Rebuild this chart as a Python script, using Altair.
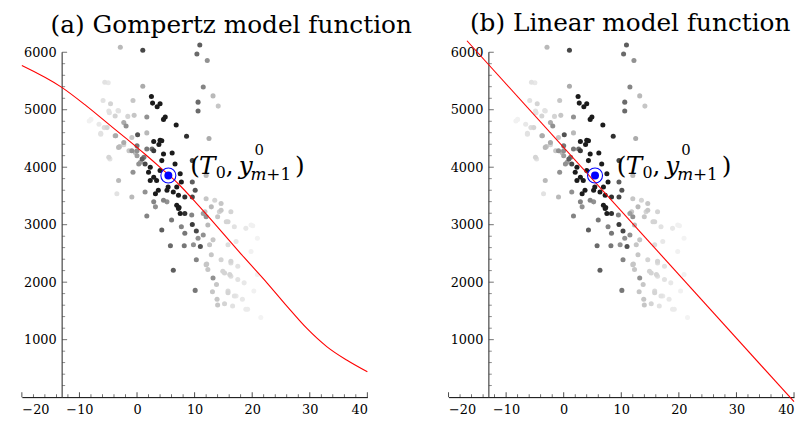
import altair as alt
import pandas as pd

# ---------------- data ----------------
pt_x = [-2.9, 1.0, -5.6, -5.0, 1.0, 2.5, 2.7, 3.5, 4.0, 4.9, 4.6, 6.8, 8.6, 2.9, 4.0, 3.8, 0.1, 1.7, -0.7, 1.7,
        -0.5, -1.6, -2.3, -1.9, -3.8, -3.3, -4.6, -5.9, -4.8, -5.7, -6.3, -3.8, -8.3, 0.0, -0.9, -2.3, -3.0,
        10.9, 10.4, 12.2, 11.5, 13.2, 10.6, 14.1, 10.6, 12.5,
        -4.7, -3.2, -3.5, -0.9, -0.7, -1.4, -0.3, 0.6, 1.2, 2.9, 4.6, 6.1, 6.6, 4.3, 2.3, 2.0, 2.9, 2.3, 3.4, 4.0,
        7.5, 7.7, 6.9, 5.4, 5.2, 6.3, 3.7, 3.2, 7.2, 8.3, 4.6, 5.2, 2.9, 3.2, 6.9, 7.2, 8.3, 7.5, 1.7, 6.0, 7.7,
        4.3, 8.3, 5.8, 8.2, 6.3, 10.1, 10.3, 9.6, 10.3, 11.0, 9.5, 7.3, 9.8, 10.6, 11.5, 11.8, 12.0, 12.9, 13.2,
        12.6, 12.9, 12.1, 12.3, 13.2, 13.8, 13.1, 13.9, 14.0, 15.2, 14.6, 14.3, 14.6, 15.8, 16.3, 16.9, 18.9,
        20.1, 15.8, 17.2, 16.3, 17.5, 15.2, 16.3, 17.5, 18.6, 15.8, 16.9, 18.3, 16.6, 19.2, 20.3, 21.5, 20.9,
        19.8, 20.9,
        9.6, 9.6, 10.1, 9.6, 12.0, 12.0, 13.5, 14.6, 14.0, 11.5, 12.3, 15.5, 19.8,
        12.0, 14.9, 16.1, 15.8, 17.2, 18.9, 16.3,
        -6.3, -6.6, -4.9, -2.3, -0.9, 0.0, 0.9, 1.4, 2.6, -3.7, -3.2, -4.9, 0.0, 1.7, 1.4, 0.3, 4.3, -8.0,
        -5.2, -3.2]
pt_y = [6086, 6034, 5477, 5470, 5408, 5229, 5115, 5051, 5103, 4874, 4832, 4736, 4539, 4448, 4470, 4396, 4563,
        4874, 5160, 4597, 4902, 4884, 4776, 4718, 4891, 4988, 5103, 5160, 4948, 4689, 4591, 4546, 4805, 4374,
        4517, 4391, 4362,
        6125, 5970, 5856, 5396, 5241, 5132, 5063, 4977, 4500,
        4143, 3770, 3540, 3483, 3913, 4288, 4258, 4086, 4172, 4288, 4229, 4246, 4057, 4115, 4000, 3913, 3827,
        3770, 3770, 3943, 3885, 3741, 3655, 3655, 3598, 3569, 3598, 3540, 3512, 3483, 3426, 3397, 3397, 3310,
        3338, 3281, 3195, 3195, 3150, 3080, 2965, 2908, 2850, 2632, 2632, 2207, 1857, 2391, 3005, 2891, 2620,
        3167, 3298, 2650, 2764, 2822, 3224, 3138, 3310, 2736, 2650, 2477, 2315, 2219, 2074, 1960, 1833, 1702,
        1603, 1626, 2391, 3224, 3367, 3052, 3224, 2965, 2936, 2983, 2650, 2707, 2333, 2276, 2160, 2103, 2046,
        1988, 1845, 1758, 1702, 1586, 1529, 1845, 1385, 2133, 2534, 2764,
        4115, 3741, 3598, 3483, 3856, 3453, 3426, 3253, 3138, 3195, 2995, 3052, 2995,
        2305, 2189, 2133, 1816, 1758, 1529, 2362,
        4574, 4747, 4977, 4431, 4288, 4201, 4143, 4057, 4316, 4546, 4345, 4172, 4288, 4316, 3569, 4057, 4460,
        4832, 4689, 4977]
pt_shade = [0.75, 0.3, 0.9, 0.92, 0.7, 0.1, 0.1, 0.1, 0.1, 0.1, 0.1, 0.1, 0.2, 0.1, 0.1, 0.1, 0.35, 0.6, 0.8,
            0.75, 0.8, 0.85, 0.7, 0.6, 0.85, 0.9, 0.85, 0.9, 0.9, 0.88, 0.9, 0.75, 0.95, 0.5, 0.8, 0.85, 0.8,
            0.4, 0.45, 0.6, 0.55, 0.75, 0.45, 0.8, 0.45, 0.7,
            0.9, 0.75, 0.9, 0.75, 0.6, 0.8, 0.75, 0.65, 0.5, 0.25, 0.1, 0.1, 0.1, 0.1, 0.1, 0.1, 0.1, 0.1, 0.1,
            0.1, 0.1, 0.1, 0.1, 0.1, 0.1, 0.1, 0.1, 0.1, 0.1, 0.2, 0.55, 0.6, 0.55, 0.6, 0.1, 0.1, 0.2, 0.1,
            0.55, 0.5, 0.55, 0.4, 0.5, 0.45, 0.5, 0.4, 0.5, 0.55, 0.25, 0.3, 0.35, 0.55, 0.1, 0.6, 0.6, 0.6,
            0.8, 0.6, 0.75, 0.8, 0.8, 0.8, 0.8, 0.8, 0.6, 0.8, 0.8, 0.8, 0.8, 0.85, 0.85, 0.85, 0.8, 0.85,
            0.85, 0.9, 0.92, 0.95, 0.88, 0.92, 0.88, 0.9, 0.85, 0.88, 0.9, 0.92, 0.87, 0.9, 0.92, 0.9, 0.93,
            0.95, 0.96, 0.95, 0.95, 0.96,
            0.3, 0.4, 0.35, 0.3, 0.75, 0.8, 0.85, 0.8, 0.8, 0.65, 0.75, 0.85, 0.95,
            0.8, 0.85, 0.85, 0.85, 0.92, 0.93, 0.85,
            0.9, 0.92, 0.9, 0.7, 0.6, 0.65, 0.4, 0.3, 0.45, 0.7, 0.75, 0.85, 0.6, 0.5, 0.6, 0.6, 0.1, 0.95,
            0.85, 0.9]

gomp_x = [-20, -13, -8.9, -5.4, -2.0, 1.4, 4.3, 7.2, 10.3, 14.6, 18.6, 22.6, 26.1, 29.5, 33.0, 36.4, 40.0]
gomp_y = [5770, 5385, 5075, 4788, 4510, 4225, 3972, 3708, 3375, 2890, 2430, 1985, 1575, 1195, 875, 645, 440]

lin_x = [-16.8, 40.0]
lin_y = [6200, -80]

t0_x = [5.44]
t0_y = [3856]

x_major = [-20, -10, 0, 10, 20, 30, 40]
x_minor = [-18, -16, -14, -12, -8, -6, -4, -2, 2, 4, 6, 8, 12, 14, 16, 18, 22, 24, 26, 28, 32, 34, 36, 38]
y_major = [1000, 2000, 3000, 4000, 5000, 6000]
y_minor = [200, 400, 600, 800, 1200, 1400, 1600, 1800, 2200, 2400, 2600, 2800, 3200, 3400, 3600, 3800,
           4200, 4400, 4600, 4800, 5200, 5400, 5600, 5800]
y_axis_x = -13
y_axis_span = [0, 6000]

titles = ["(a) Gompertz model function", "(b) Linear model function"]

# ---------------- frames ----------------
points_df = pd.DataFrame({"x": pt_x, "y": pt_y, "shade": pt_shade}).sort_values("shade", ascending=False)
gomp_df = pd.DataFrame({"x": gomp_x, "y": gomp_y})
lin_df = pd.DataFrame({"x": lin_x, "y": lin_y})
t0_df = pd.DataFrame({"x": t0_x, "y": t0_y})
xmaj_df = pd.DataFrame({"x": x_major, "y": [0] * len(x_major)})
xmin_df = pd.DataFrame({"x": x_minor, "y": [0] * len(x_minor)})
ymaj_df = pd.DataFrame({"x": [y_axis_x] * len(y_major), "y": y_major})
ymin_df = pd.DataFrame({"x": [y_axis_x] * len(y_minor), "y": y_minor})
yline_df = pd.DataFrame({"x": [y_axis_x, y_axis_x], "y": y_axis_span})

W, H = 349, 360
XMIN, XMAX = -20, 40
FONT = "DejaVu Serif"

xs = alt.Scale(domain=[XMIN, XMAX], nice=False, zero=False)
ys = alt.Scale(domain=[0, 6200], nice=False, zero=False)
y_off = -(y_axis_x - XMIN) / (XMAX - XMIN) * W

x_axis = alt.Axis(values=x_major, ticks=False, tickSize=0, grid=False, domain=True,
                  domainColor="black", domainWidth=1, labelPadding=7,
                  labelFont=FONT, labelFontSize=13, labelColor="black", format="d", title=None)
y_axis = alt.Axis(values=y_major, ticks=False, tickSize=0, grid=False, domain=False,
                  offset=y_off, labelPadding=6,
                  labelFont=FONT, labelFontSize=13, labelColor="black", format="d", title=None)
X = alt.X("x:Q", scale=xs, axis=x_axis, title=None)
Y = alt.Y("y:Q", scale=ys, axis=y_axis, title=None)


def panel(title, line_df, title_dx):
    pts = alt.Chart(points_df).mark_circle(size=26, opacity=1).encode(
        x=X, y=Y,
        color=alt.Color("shade:Q", scale=alt.Scale(domain=[0, 1], range=["#000000", "#ffffff"]), legend=None),
    )

    yline = alt.Chart(yline_df).mark_line(color="#555555", strokeWidth=1.3).encode(x=X, y=Y)
    xmaj = alt.Chart(xmaj_df).mark_tick(orient="vertical", size=5, thickness=1, color="black",
                                        yOffset=-2.5).encode(x=X, y=Y)
    xmin = alt.Chart(xmin_df).mark_tick(orient="vertical", size=3, thickness=0.8, color="black",
                                        yOffset=-1.5).encode(x=X, y=Y)
    ymaj = alt.Chart(ymaj_df).mark_tick(orient="horizontal", size=5, thickness=1, color="#333333",
                                        xOffset=2.5).encode(x=X, y=Y)
    ymin = alt.Chart(ymin_df).mark_tick(orient="horizontal", size=3, thickness=0.8, color="#333333",
                                        xOffset=1.5).encode(x=X, y=Y)

    line = alt.Chart(line_df).mark_line(color="#ff0000", strokeWidth=1.1, interpolate="monotone").encode(
        x=X, y=Y)
    ring = alt.Chart(t0_df).mark_point(shape="circle", size=230, color="blue", strokeWidth=1.1,
                                       filled=False, opacity=1).encode(x=X, y=Y)
    dot = alt.Chart(t0_df).mark_circle(size=65, color="blue", opacity=1).encode(x=X, y=Y)

    pieces = [
        ("(", 22, -1, 25, "normal"),
        ("T", 31, -1, 25, "italic"),
        ("0", 48, 3, 16, "normal"),
        (",", 58, -1, 25, "normal"),
        ("y", 71, -1, 25, "italic"),
        ("0", 87, -21, 15, "normal"),
        ("m", 83, 5, 17, "italic"),
        ("+1", 99, 5, 17, "normal"),
        (")", 128, -1, 25, "normal"),
    ]
    texts = []
    for txt, dx, dy, fs, style in pieces:
        texts.append(
            alt.Chart(t0_df).mark_text(text=txt, align="left", baseline="alphabetic", dx=dx, dy=dy,
                                       font=FONT, fontSize=fs, fontStyle=style, color="black")
            .encode(x=X, y=Y)
        )

    return alt.layer(pts, yline, xmin, xmaj, ymin, ymaj, line, ring, dot, *texts).properties(
        width=W, height=H,
        title=alt.TitleParams(title, font=FONT, fontSize=25, fontWeight="normal", color="black",
                              anchor="middle", dx=title_dx, offset=-17, baseline="alphabetic"),
    )


chart = alt.hconcat(
    panel(titles[0], gomp_df, 37),
    panel(titles[1], lin_df, 9),
    spacing=82, bounds="flush",
).properties(
    padding={"left": 11, "top": 0, "right": 0, "bottom": 0},
).configure_view(stroke=None)

chart.save("out.html", embed_options={"renderer": "svg", "actions": False})
